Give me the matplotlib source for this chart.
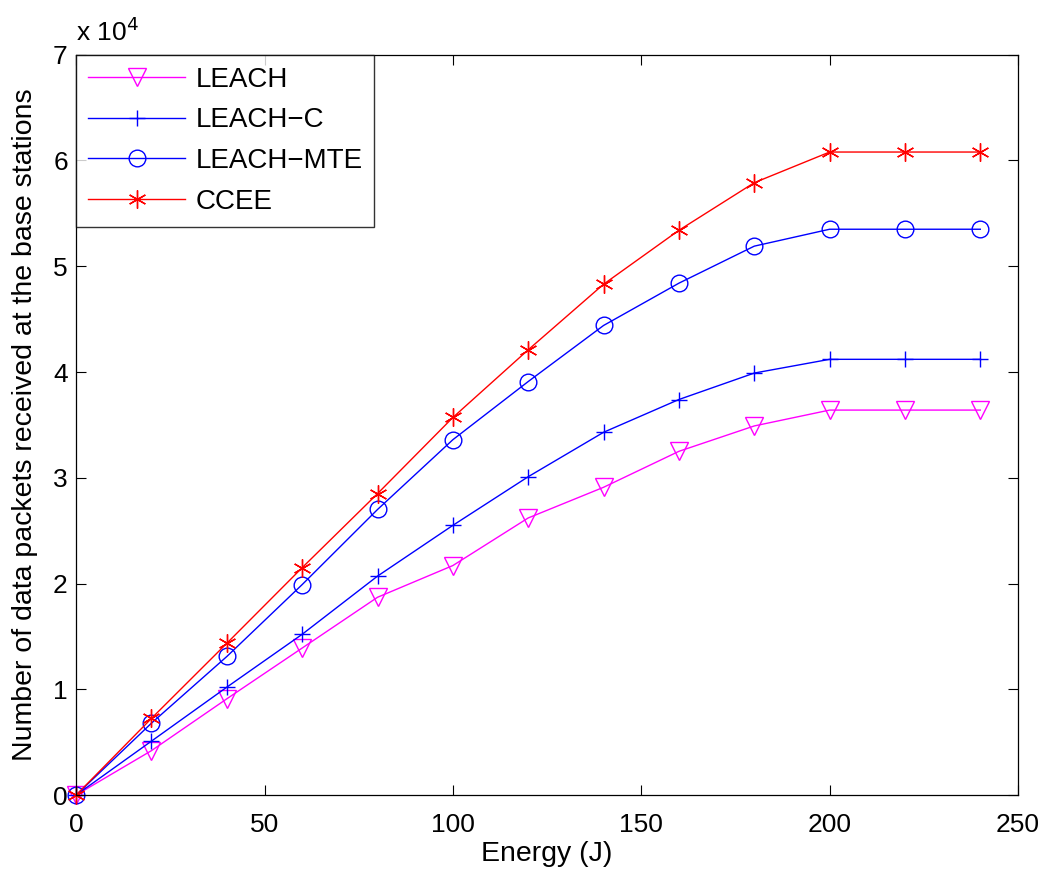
import numpy as np
import matplotlib
matplotlib.use("Agg")
import matplotlib.pyplot as plt

# energy (J) and packets received at the base station
energy = [0, 20, 40, 60, 80, 100, 120, 140, 160, 180, 200, 220, 240]
leach = [0, 4200, 9100, 13900, 18700, 21700, 26200, 29100, 32500, 34900, 36400, 36400, 36400]
leach_c = [0, 5100, 10200, 15200, 20700, 25500, 30100, 34300, 37400, 39900, 41200, 41200, 41200]
leach_mte = [0, 6800, 13100, 19900, 27000, 33600, 39100, 44400, 48400, 51900, 53500, 53500, 53500]
ccee = [0, 7250, 14350, 21500, 28500, 35700, 42100, 48300, 53400, 57900, 60800, 60800, 60800]

scale = 1e4

plt.rcParams['font.family'] = ['Liberation Sans', 'DejaVu Sans']
fig = plt.figure(figsize=(10.43, 8.73), dpi=100)
ax = fig.add_axes([0.073, 0.0893, 0.903, 0.848])

lw = 1.0
ax.plot(energy, np.array(leach) / scale, color=(1, 0, 1), lw=lw, marker='v',
        ms=13, mfc='none', mew=1.0, label='LEACH', clip_on=False)
ax.plot(energy, np.array(leach_c) / scale, color=(0, 0, 1), lw=lw, marker='+',
        ms=12, mew=1.0, label='LEACH\u2212C', clip_on=False)
ax.plot(energy, np.array(leach_mte) / scale, color=(0, 0, 1), lw=lw, marker='o',
        ms=12, mfc='none', mew=1.0, label='LEACH\u2212MTE', clip_on=False)
ax.plot(energy, np.array(ccee) / scale, color=(1, 0, 0), lw=lw, marker=(6, 2, 0),
        ms=13, mew=1.0, label='CCEE', clip_on=False)

ax.set_xlim(0, 250)
ax.set_ylim(0, 7)
ax.set_xticks([0, 50, 100, 150, 200, 250])
ax.set_yticks(range(0, 8))
ax.tick_params(direction='in', length=7, width=0.8, top=True, right=True,
               labelsize=19)
ax.tick_params(axis='x', pad=13)
ax.tick_params(axis='y', pad=6)
for s in ax.spines.values():
    s.set_linewidth(0.9)

ax.set_xlabel('Energy (J)', fontsize=20.5, labelpad=3)
ax.set_ylabel('Number of data packets received at the base stations', fontsize=20.5, labelpad=11)
ax.text(0.0, 1.012, 'x 10$^4$', transform=ax.transAxes, fontsize=19,
        ha='left', va='bottom')

leg = ax.legend(loc='upper left', fontsize=20, frameon=True, fancybox=False,
                edgecolor='black', handlelength=3.5, borderaxespad=0.0,
                borderpad=0.43, labelspacing=0.53, handletextpad=0.36)
leg.get_frame().set_linewidth(1.0)

fig.savefig('out.png', dpi=100)
